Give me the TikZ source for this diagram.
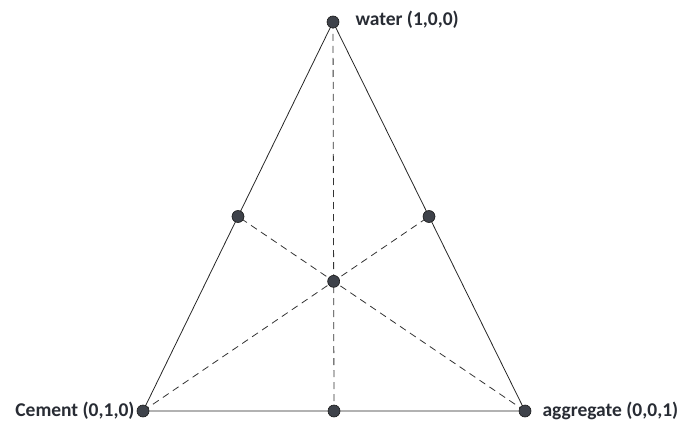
\documentclass[tikz,border=0pt]{standalone}
\usepackage{fontspec}
\setmainfont{Carlito}
\definecolor{dotfill}{RGB}{62,66,74}
\definecolor{txt}{RGB}{40,44,52}
\begin{document}
\begin{tikzpicture}[x=1pt,y=-1pt,
  edge/.style={draw=black!85, line width=0.8pt},
  med/.style={draw=black!80, line width=0.8pt, dash pattern=on 7pt off 5pt},
  dot/.style={circle, fill=dotfill, draw=black!90, line width=0.6pt, minimum size=12pt, inner sep=0pt},
  lbl/.style={font=\bfseries\fontsize{19.5}{21}\selectfont, text=txt, inner sep=0pt}]
\useasboundingbox (0,0) rectangle (682,425);
\coordinate (A) at (333,22);
\coordinate (B) at (143,411);
\coordinate (C) at (525,411);
\path (A) -- (B) coordinate[pos=0.5] (mAB);
\path (A) -- (C) coordinate[pos=0.5] (mAC);
\path (B) -- (C) coordinate[pos=0.5] (mBC);
\path (A) -- (mBC) coordinate[pos=0.6667] (G);
\draw[edge] (A) -- (B) -- (C) -- cycle;
\draw[med] (A) -- (mBC);
\draw[med] (B) -- (mAC);
\draw[med] (C) -- (mAB);
\foreach \p in {A,B,C,mAB,mAC,mBC,G} \node[dot] (d\p) at (\p) {};
\node[lbl, anchor=west] (lw) at ([xshift=16pt,yshift=2pt]dA.east) {water (1,0,0)};
\node[lbl, anchor=east] (lc) at ([xshift=-2pt]dB.west) {Cement (0,1,0)};
\node[lbl, anchor=west] (la) at ([xshift=11pt]dC.east) {aggregate (0,0,1)};
\end{tikzpicture}
\end{document}
